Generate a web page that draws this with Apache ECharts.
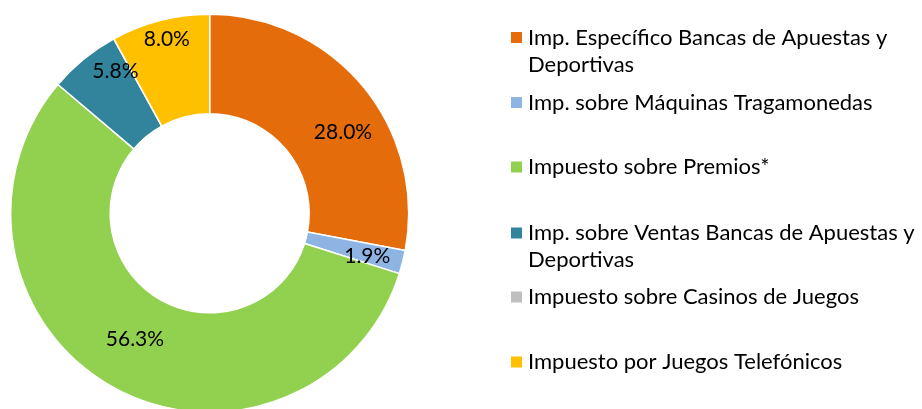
<!DOCTYPE html>
<html>
<head>
<meta charset="utf-8">
<script src="https://cdn.jsdelivr.net/npm/echarts@6/dist/echarts.min.js"></script>
<style>
  html, body { margin: 0; padding: 0; background: #fff; }
  #chart { width: 922px; height: 409px; }
</style>
</head>
<body>
<div id="chart"></div>
<script>
// Tax categories and their share of total collection (%)
const categories = [
  'Imp. Específico Bancas de Apuestas y Deportivas',
  'Imp. sobre Máquinas Tragamonedas',
  'Impuesto sobre Premios*',
  'Imp. sobre Ventas Bancas de Apuestas y Deportivas',
  'Impuesto sobre Casinos de Juegos',
  'Impuesto por Juegos Telefónicos'
];
const shares = [28.0, 1.9, 56.3, 5.8, 0.0, 8.0];
const colors = ['#E46C0A', '#8EB4E3', '#92D050', '#31849B', '#BFBFBF', '#FFC000'];

// Legend text lines (long names wrap onto a second line)
const legendLines = [
  ['Imp. Específico Bancas de Apuestas y', 'Deportivas'],
  ['Imp. sobre Máquinas Tragamonedas'],
  ['Impuesto sobre Premios*'],
  ['Imp. sobre Ventas Bancas de Apuestas y', 'Deportivas'],
  ['Impuesto sobre Casinos de Juegos'],
  ['Impuesto por Juegos Telefónicos']
];

const FONT = 'Lato, "Open Sans", sans-serif';
const LINE_H = 27;
const legendIconCenters = [37.5, 102.5, 167, 233, 297, 362];
// Small nudges that move each percentage label to its spot in the ring
const labelNudge = [[16, 16], [10, 6], [-1, -7], [2, -24], [0, 0], [-5, -27]];

const legends = categories.map((name, i) => {
  const lines = legendLines[i];
  const twoLines = lines.length > 1;
  // A leading blank line keeps the swatch level with the first text line
  const text = twoLines ? '\n' + lines.join('\n') : lines[0];
  return {
    data: [name],
    orient: 'vertical',
    left: 509,
    top: legendIconCenters[i] - (twoLines ? 1.5 * LINE_H : 0.5 * LINE_H),
    padding: 0,
    icon: 'rect',
    itemWidth: 13,
    itemHeight: 13,
    itemGap: 0,
    selectedMode: false,
    formatter: () => text,
    textStyle: {
      fontFamily: FONT,
      fontSize: 22,
      color: '#000',
      lineHeight: LINE_H
    }
  };
});

const chart = echarts.init(document.getElementById('chart'), null, { renderer: 'canvas' });
chart.setOption({
  animation: false,
  color: colors,
  legend: legends,
  series: [{
    type: 'pie',
    center: [209.7, 213.3],
    radius: [99.5, 199],
    startAngle: 90,
    clockwise: true,
    avoidLabelOverlap: false,
    stillShowZeroSum: true,
    itemStyle: { borderColor: '#fff', borderWidth: 1.5 },
    label: {
      show: true,
      position: 'inside',
      fontFamily: FONT,
      fontSize: 21,
      color: '#000',
      formatter: p => p.value.toFixed(1) + '%'
    },
    labelLine: { show: false },
    labelLayout: p => ({ dx: labelNudge[p.dataIndex][0], dy: labelNudge[p.dataIndex][1] }),
    emphasis: { disabled: true },
    data: categories.map((name, i) => ({
      name,
      value: shares[i],
      label: { show: shares[i] > 0 }
    }))
  }]
});
</script>
</body>
</html>
